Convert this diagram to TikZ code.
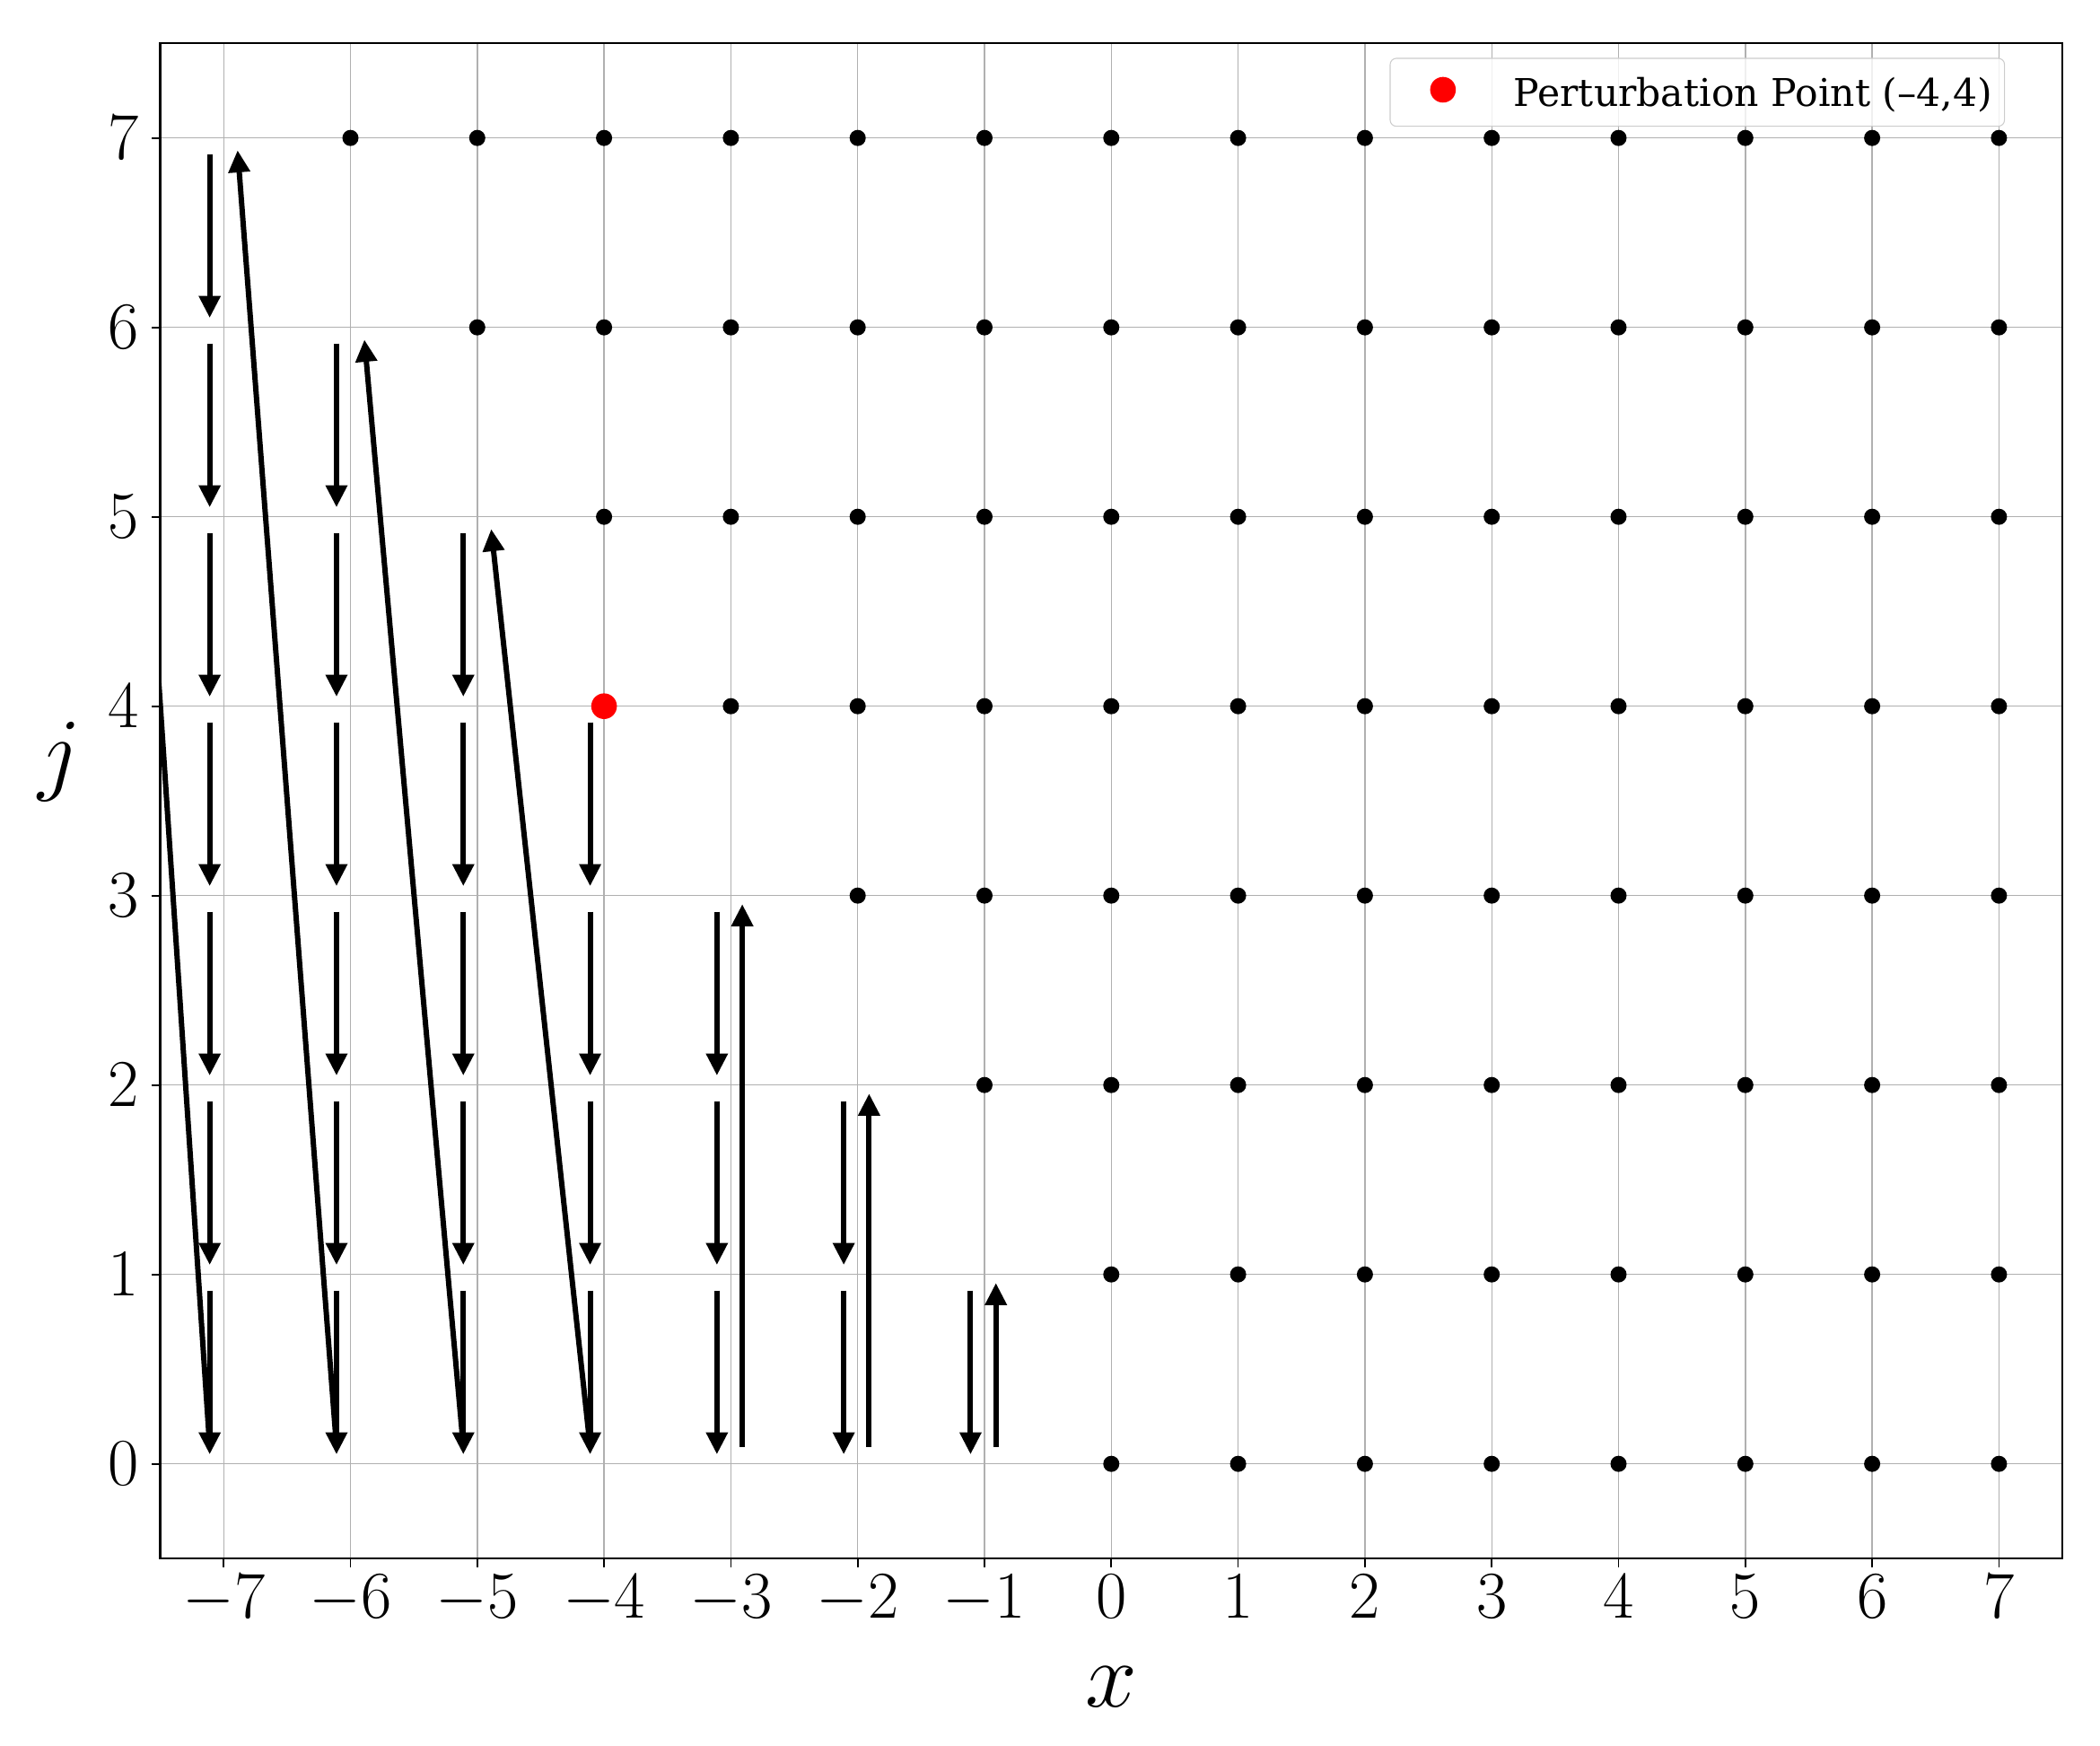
\RequirePackage{fix-cm}
\documentclass[tikz,border=0pt]{standalone}
\usepackage{fontspec}
\newfontfamily\legendfont{DejaVu Serif}
\usetikzlibrary{arrows.meta}
\definecolor{gridgray}{HTML}{B0B0B0}
\definecolor{legendedge}{HTML}{CCCCCC}
\definecolor{pertred}{HTML}{FF0000}
\begin{document}
\begin{tikzpicture}[
  gridline/.style={gridgray, line width=0.4pt},
  frameline/.style={black, line width=0.65pt},
  tickmark/.style={black, line width=0.5pt},
  dot/.style={circle, fill=black, inner sep=0pt, minimum size=0.18cm},
  pdot/.style={circle, fill=pertred, inner sep=0pt, minimum size=0.286cm},
  flow/.style={black, line width=1.7pt, -{Triangle[width=6.6pt,length=7pt]}},
  ticklabel/.style={inner sep=0pt, font=\fontsize{21.2}{25}\selectfont},
  axislabel/.style={inner sep=0pt, font=\fontsize{29.5}{35}\selectfont},
  legendbox/.style={draw=legendedge, line width=0.3pt, fill=white, fill opacity=0.8, rounded corners=0.07cm, inner sep=0pt},
  legendtext/.style={inner sep=0pt, font=\legendfont\fontsize{12.1}{15}\selectfont},
]
\useasboundingbox (0,0) rectangle (23.4,19.45);
\begin{scope}[shift={(12.383,3.143)}, x=1.413cm, y=2.11cm]
  % grid lines
  \foreach \i in {-7,...,7} \draw[gridline] (\i,-0.5) -- (\i,7.5);
  \foreach \j in {0,...,7} \draw[gridline] (-7.5,\j) -- (7.5,\j);
  \begin{scope}
    \clip (-7.5,-0.5) rectangle (7.5,7.5);
    % lattice points
    \foreach \j in {1,...,7} {
      \pgfmathtruncatemacro{\xs}{1-\j}
      \foreach \i in {\xs,...,7} \node[dot] (d\i-\j) at (\i,\j) {};
    }
    \foreach \i in {0,...,7} \node[dot] (d\i-0) at (\i,0) {};
    \node[pdot] (pert) at (-4,4) {};
    % downward arrows
    \foreach \k in {1,...,7} {
      \pgfmathtruncatemacro{\jm}{\k-1}
      \foreach \j in {0,...,\jm} {
        \coordinate (ds-\k-\j) at (-\k-0.11, \j+0.915);
        \coordinate (de-\k-\j) at (-\k-0.11, \j+0.05);
        \draw[flow] (ds-\k-\j) -- (de-\k-\j);
      }
    }
    % vertical upward arrows
    \foreach \k in {1,2,3} {
      \coordinate (us-\k) at (-\k+0.09, 0.09);
      \coordinate (ue-\k) at (-\k+0.09, \k-0.045);
      \draw[flow] (us-\k) -- (ue-\k);
    }
    % slanted upward arrows
    \foreach \m in {4,...,7} {
      \coordinate (ss-\m) at (-\m-0.11, 0.09);
      \coordinate (se-\m) at (-\m-1+0.11, \m+1-0.065);
      \draw[flow] (ss-\m) -- (se-\m);
    }
  \end{scope}
  % frame and ticks
  \draw[frameline] (-7.5,-0.5) rectangle (7.5,7.5);
  \foreach \i in {-7,...,7} {
    \draw[tickmark] (\i,-0.5) -- ++(0,-0.1cm);
    \node[ticklabel, anchor=base] (xt\i) at (\i,-0.8166) {$\i$};
  }
  \foreach \j in {0,...,7} {
    \draw[tickmark] (-7.5,\j) -- ++(-0.1cm,0);
    \node[ticklabel, anchor=east] (yt\j) at (-7.667,\j) {$\j$};
  }
\end{scope}
% axis labels
\node[axislabel] (xlabel) at (12.38,0.66) {$x$};
\node[axislabel] (jlabel) at (0.66,10.965) {$j$};
% legend
\node[legendbox, minimum width=6.846cm, minimum height=0.757cm] (legend) at (18.913,18.4215) {};
\node[pdot] (legmark) at (16.079,18.45) {};
\node[legendtext, anchor=base west] (legtext) at (16.86,18.267) {Perturbation Point (–4,4)};
\end{tikzpicture}
\end{document}
